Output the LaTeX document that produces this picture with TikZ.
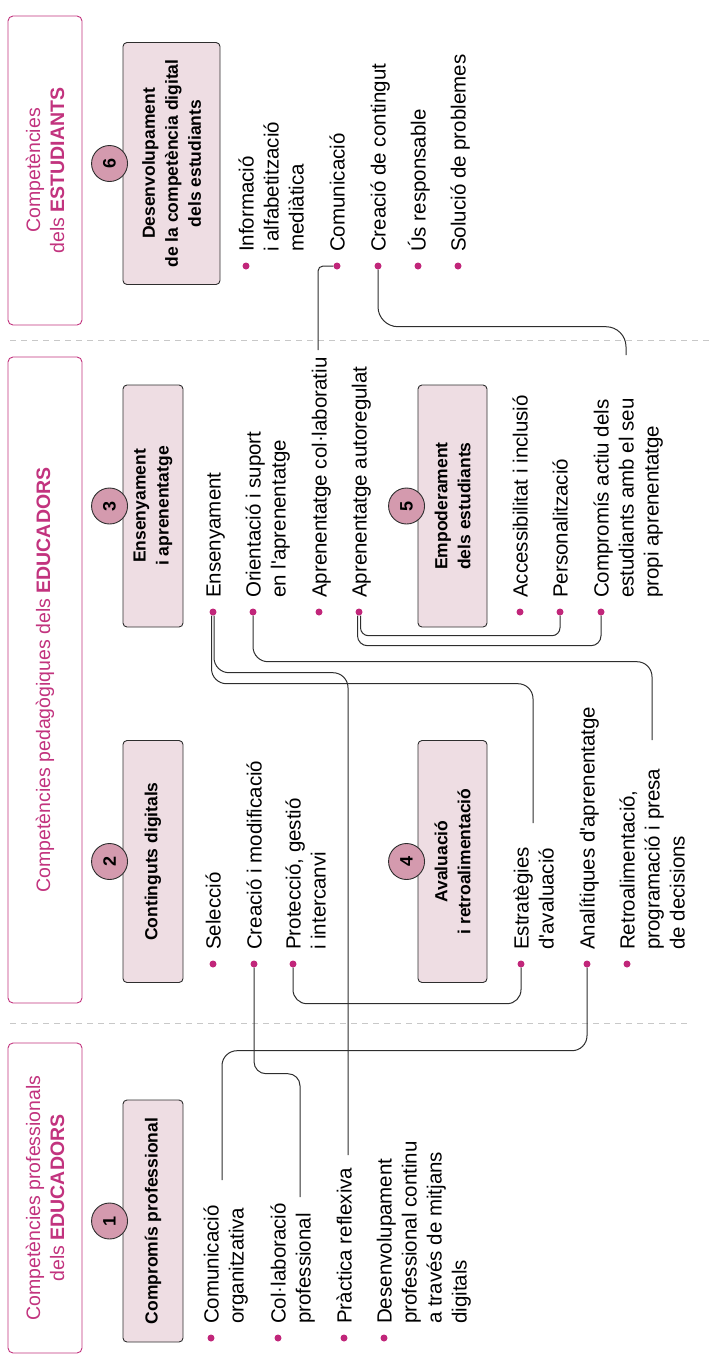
\documentclass[tikz,border=0pt]{standalone}
\usepackage{fontspec}
\setmainfont{Liberation Sans}
\usetikzlibrary{positioning}
\definecolor{rosatext}{HTML}{C2337E}
\definecolor{rosapunt}{HTML}{C1267A}
\definecolor{rosafons}{HTML}{EEDDE3}
\definecolor{rosacercle}{HTML}{D49AAE}
\definecolor{gristrac}{HTML}{2E2E2E}
\definecolor{grisguio}{HTML}{C8C8C8}
\newcommand{\ap}{\textquotesingle}
\begin{document}
\begin{tikzpicture}[x=1pt, y=-1pt,
	every node/.style={inner sep=0pt},
	seccio/.style={draw=rosatext, line width=0.9pt, rounded corners=5pt, rotate=90, text=rosatext, align=center, minimum height=74pt, font=\fontsize{19.5}{24}\selectfont},
	caixa/.style={draw=gristrac, fill=rosafons, line width=0.9pt, rounded corners=4pt, rotate=90, align=center, minimum width=242pt, minimum height=60pt, font=\bfseries\fontsize{17.5}{23}\selectfont},
	num/.style={circle, draw=gristrac, fill=rosacercle, line width=0.9pt, minimum size=36pt, rotate=90, font=\bfseries\fontsize{18}{18}\selectfont},
	punt/.style={circle, fill=rosapunt, minimum size=7pt},
	item/.style={rotate=90, anchor=base west, align=left, font=\fontsize{20.5}{25}\selectfont},
	link/.style={draw=gristrac, line width=1pt, rounded corners=#1},
	link/.default=15pt]
	\useasboundingbox (0,0) rectangle (714,1361);

	% separadors
	\draw[grisguio, line width=1pt, dash pattern=on 6pt off 5pt] (10,340) -- (714,340);
	\draw[grisguio, line width=1pt, dash pattern=on 6pt off 5pt] (10,1023) -- (690,1023);

	% blocs
	\node[seccio, minimum width=309pt] (s6) at (45,170.5) {Competències\\dels \textbf{ESTUDIANTS}};
	\node[seccio, minimum width=646pt] (s2) at (45,680) {Competències pedagògiques dels \textbf{EDUCADORS}};
	\node[seccio, minimum width=310pt] (s1) at (45,1198) {Competències professionals\\dels \textbf{EDUCADORS}};

	\node[caixa] (b1) at (153,1221) {Compromís professional};
	\node[caixa] (b2) at (153,861.5) {Continguts digitals};
	\node[caixa] (b3) at (153,506) {Ensenyament\\i aprenentatge};
	\node[caixa, minimum height=69pt] (b4) at (452.5,861.5) {Avaluació\\i retroalimentació};
	\node[caixa, minimum height=69pt] (b5) at (452.5,506) {Empoderament\\dels estudiants};
	\node[caixa, minimum height=97pt] (b6) at (171.5,163.5) {Desenvolupament\\de la competència digital\\dels estudiants};

	\node[num] (n1) at ([xshift=-13pt]b1.north) {1};
	\node[num] (n2) at ([xshift=-13pt]b2.north) {2};
	\node[num] (n3) at ([xshift=-13pt]b3.north) {3};
	\node[num] (n4) at ([xshift=-11pt]b4.north) {4};
	\node[num] (n5) at ([xshift=-11pt]b5.north) {5};
	\node[num] (n6) at ([xshift=-13pt]b6.north) {6};

	% 6
	\node[punt] (d-inf) at (246,266) {};
	\node[item] (t-inf) at ([shift={(57.5,-14)}]d-inf) {Informació\\i alfabetització\\mediàtica};
	\node[punt] (d-com6) at (337,266) {};
	\node[item] (t-com6) at ([shift={(7.5,-14)}]d-com6) {Comunicació};
	\node[punt] (d-cre6) at (378,266) {};
	\node[item] (t-cre6) at ([shift={(7.5,-14)}]d-cre6) {Creació de contingut};
	\node[punt] (d-us) at (418,266) {};
	\node[item] (t-us) at ([shift={(7.5,-14)}]d-us) {Ús responsable};
	\node[punt] (d-sol) at (458,266) {};
	\node[item] (t-sol) at ([shift={(7.5,-14)}]d-sol) {Solució de problemes};

	% 3
	\node[punt] (d-ens) at (213,612) {};
	\node[item] (t-ens) at ([shift={(7.5,-14)}]d-ens) {Ensenyament};
	\node[punt] (d-ori) at (253,612) {};
	\node[item] (t-ori) at ([shift={(32.5,-14)}]d-ori) {Orientació i suport\\en l\ap aprenentatge};
	\node[punt] (d-col) at (319,612) {};
	\node[item] (t-col) at ([shift={(7.5,-14)}]d-col) {Aprenentatge col·laboratiu};
	\node[punt] (d-aut) at (359,612) {};
	\node[item] (t-aut) at ([shift={(7.5,-14)}]d-aut) {Aprenentatge autoregulat};

	% 5
	\node[punt] (d-acc) at (520,612) {};
	\node[item] (t-acc) at ([shift={(7.5,-14)}]d-acc) {Accessibilitat i inclusió};
	\node[punt] (d-per) at (560,612) {};
	\node[item] (t-per) at ([shift={(7.5,-14)}]d-per) {Personalització};
	\node[punt] (d-cmp) at (601,612) {};
	\node[item] (t-cmp) at ([shift={(57.5,-14)}]d-cmp) {Compromís actiu dels\\estudiants amb el seu\\propi aprenentatge};

	% 2
	\node[punt] (d-sel) at (213,964) {};
	\node[item] (t-sel) at ([shift={(7.5,-14)}]d-sel) {Selecció};
	\node[punt] (d-crm) at (254,964) {};
	\node[item] (t-crm) at ([shift={(7.5,-14)}]d-crm) {Creació i modificació};
	\node[punt] (d-pro) at (293,964) {};
	\node[item] (t-pro) at ([shift={(32.5,-14)}]d-pro) {Protecció, gestió\\i intercanvi};

	% 4
	\node[punt] (d-est) at (521,964) {};
	\node[item] (t-est) at ([shift={(32.5,-14)}]d-est) {Estratègies\\d\ap avaluació};
	\node[punt] (d-ana) at (587,964) {};
	\node[item] (t-ana) at ([shift={(7.5,-14)}]d-ana) {Analítiques d\ap aprenentatge};
	\node[punt] (d-ret) at (627,964) {};
	\node[item] (t-ret) at ([shift={(57.5,-14)}]d-ret) {Retroalimentació,\\programació i presa\\de decisions};

	% 1
	\node[punt] (d-cor) at (211,1338) {};
	\node[item] (t-cor) at ([shift={(32.5,-14)}]d-cor) {Comunicació\\organitzativa};
	\node[punt] (d-clb) at (278,1338) {};
	\node[item] (t-clb) at ([shift={(32.5,-14)}]d-clb) {Col·laboració\\professional};
	\node[punt] (d-pra) at (344,1338) {};
	\node[item] (t-pra) at ([shift={(7.5,-14)}]d-pra) {Pràctica reflexiva};
	\node[punt] (d-dpc) at (384,1338) {};
	\node[item] (t-dpc) at ([shift={(82.5,-14)}]d-dpc) {Desenvolupament\\professional continu\\a través de mitjans\\digitals};

	% extrems lliures
	\coordinate (e-col) at (318,350);
	\coordinate (e-cmp) at (626,355);
	\coordinate (e-pra) at (348,1155);
	\coordinate (e-est) at (533,823);
	\coordinate (e-ret) at (652,740);
	\coordinate (e-clb) at (300,1197);
	\coordinate (e-cor) at (222,1180);

	\draw[link=5pt] (d-com6.west) -| (e-col);
	\draw[link=20pt] (d-cre6.south) -- ++(0,57) -| (e-cmp);
	\draw[link=8pt] ([xshift=1.5pt]d-aut.south) -- ++(0,20) -| (d-per.south);
	\draw[link=10pt] ([xshift=-1.5pt]d-aut.south) -- ++(0,30) -| (d-cmp.south);
	\draw[link] ([xshift=1pt]d-ens.south) -- ++(0,57) -| (e-pra);
	\draw[link] ([xshift=-1.5pt]d-ens.south) -- ++(0,68) -| (e-est);
	\draw[link] (d-ori.south) -- ++(0,46) -| (e-ret);
	\draw[link=12pt] (d-crm.south) -- ++(0,106) -| (e-clb);
	\draw[link=14pt] (d-pro.south) -- ++(0,36) -| (d-est.south);
	\draw[link] (d-ana.south) -- ++(0,83) -| (e-cor);
\end{tikzpicture}
\end{document}
